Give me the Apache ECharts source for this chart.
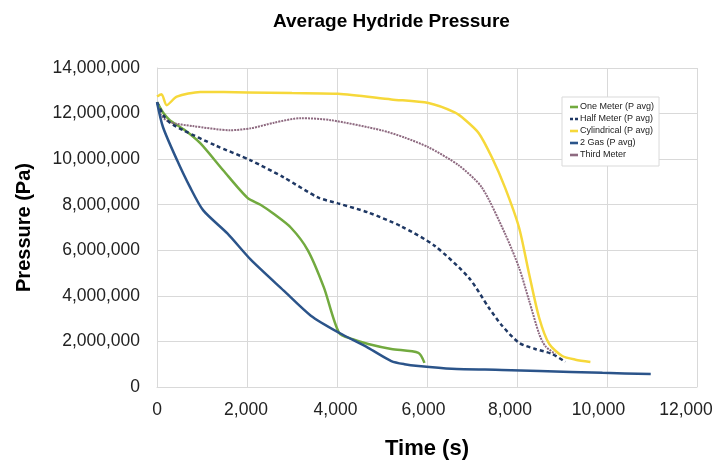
<!DOCTYPE html>
<html>
<head>
<meta charset="utf-8">
<script src="https://cdn.jsdelivr.net/npm/echarts@6/dist/echarts.min.js"></script>
<style>
html,body{margin:0;padding:0;background:#fff;}
#chart{width:724px;height:462px;}
</style>
</head>
<body>
<div id="chart"></div>
<script>
var seriesNames = ['One Meter (P avg)', 'Half Meter (P avg)', 'Cylindrical (P avg)', '2 Gas (P avg)', 'Third Meter'];

var oneMeterT = [0, 150, 290, 600, 961, 1475, 2011, 2300, 2592, 2972, 3352, 3710, 4045, 4350, 4693, 5207, 5810, 5944];
var oneMeterP = [12500000, 12000000, 11700000, 11300000, 10700000, 9500000, 8300000, 8000000, 7600000, 7000000, 6000000, 4360000, 2380000, 2100000, 1890000, 1670000, 1500000, 1060000];

var halfMeterT = [0, 150, 290, 581, 1300, 2078, 2816, 3576, 4022, 4693, 5430, 6168, 6928, 7374, 7665, 8045, 8403, 8782, 9073];
var halfMeterP = [12500000, 11900000, 11600000, 11270000, 10600000, 9950000, 9200000, 8320000, 8060000, 7660000, 7050000, 6200000, 4800000, 3480000, 2700000, 1940000, 1670000, 1450000, 1100000];

var cylT = [0, 100, 216, 440, 961, 2000, 3000, 4022, 5207, 6033, 6615, 6850, 7151, 7441, 7732, 8045, 8268, 8492, 8715, 9006, 9300, 9631];
var cylP = [12750000, 12850000, 12370000, 12740000, 12950000, 12930000, 12900000, 12870000, 12620000, 12460000, 12050000, 11720000, 11140000, 10080000, 8760000, 7000000, 4970000, 3040000, 1890000, 1360000, 1200000, 1100000];

var gasT = [0, 134, 447, 737, 1028, 1564, 2078, 2816, 3419, 4045, 4693, 5207, 5500, 5810, 6547, 7665, 8500, 9899, 10972];
var gasP = [12500000, 11400000, 9950000, 8760000, 7750000, 6740000, 5600000, 4230000, 3130000, 2380000, 1720000, 1140000, 1000000, 920000, 800000, 750000, 700000, 620000, 570000];

var thirdT = [0, 100, 290, 800, 1631, 2078, 2600, 3196, 3866, 4983, 5500, 6033, 6704, 7218, 7732, 8045, 8268, 8492, 8626, 8850];
var thirdP = [12500000, 11900000, 11620000, 11450000, 11270000, 11350000, 11600000, 11800000, 11710000, 11270000, 10950000, 10520000, 9730000, 8760000, 6740000, 5240000, 3800000, 2330000, 1800000, 1450000];

var xTicks = [0, 2000, 4000, 6000, 8000, 10000, 12000];
var yTicks = [0, 2000000, 4000000, 6000000, 8000000, 10000000, 12000000, 14000000];

function pairs(t, p) { return t.map(function (v, i) { return [v, p[i]]; }); }
function fmt(v) { return v.toLocaleString('en-US'); }

var colors = ['#72AA3F', '#1F3864', '#F6D83A', '#2B548A', '#8E6A80'];
var styles = [
  {width: 2.5, type: 'solid'},
  {width: 2.5, type: [4, 3]},
  {width: 2.5, type: 'solid'},
  {width: 2.5, type: 'solid'},
  {width: 2, type: [2, 1]}
];
var datas = [pairs(oneMeterT, oneMeterP), pairs(halfMeterT, halfMeterP), pairs(cylT, cylP), pairs(gasT, gasP), pairs(thirdT, thirdP)];
var solidIcon = 'path://M0,0h8v2.6h-8z';
var dashIcon = 'path://M0,0h3v2.6h-3z M5,0h3v2.6h-3z';

var font = "'Liberation Sans', Arial, sans-serif";
// small leftward label nudges to match the reference's tick-label placement
var xLabelShift = [0, 2, 3, 7, 14, 17, 22];
var xRich = {};
xLabelShift.forEach(function (s, i) {
  xRich['l' + i] = {fontFamily: font, fontSize: 17.5, color: '#222', padding: [0, s, 0, 0]};
});

var chart = echarts.init(document.getElementById('chart'));
chart.setOption({
  backgroundColor: '#fff',
  animation: false,
  title: {
    text: 'Average Hydride Pressure',
    left: 268, top: 7,
    textStyle: {fontFamily: font, fontSize: 19, fontWeight: 'bold', color: '#000'}
  },
  legend: {
    orient: 'vertical',
    left: 562, top: 97,
    padding: [4, 5, 5, 8],
    itemGap: 0,
    itemWidth: 8, itemHeight: 3,
    backgroundColor: '#fff',
    borderColor: '#d9d9d9', borderWidth: 1,
    data: seriesNames.map(function (n, i) { return {name: n, icon: i === 1 ? dashIcon : solidIcon}; }),
    textStyle: {fontFamily: font, fontSize: 9, lineHeight: 12, color: '#222', padding: [0, 0, 0, -3]}
  },
  grid: {left: 157, right: 27, top: 68, bottom: 75, containLabel: false, outerBoundsMode: 'none'},
  xAxis: {
    type: 'value', min: 0, max: 12000, interval: 2000,
    name: 'Time (s)', nameLocation: 'middle', nameGap: 51,
    nameTextStyle: {fontFamily: font, fontSize: 22, fontWeight: 'bold', color: '#000'},
    axisLine: {show: true, lineStyle: {color: '#d9d9d9'}},
    axisTick: {show: false},
    axisLabel: {
      fontFamily: font, fontSize: 17.5, color: '#222', margin: 14,
      rich: xRich,
      formatter: function (v) { var i = xTicks.indexOf(v); return i >= 0 ? '{l' + i + '|' + fmt(v) + '}' : ''; }
    },
    splitLine: {show: true, lineStyle: {color: '#d9d9d9', width: 1}}
  },
  yAxis: {
    type: 'value', min: 0, max: 14000000, interval: 2000000,
    name: 'Pressure (Pa)', nameLocation: 'middle', nameGap: 123, nameRotate: 90,
    nameTextStyle: {fontFamily: font, fontSize: 20, fontWeight: 'bold', color: '#000'},
    axisLine: {show: true, lineStyle: {color: '#d9d9d9'}},
    axisTick: {show: false},
    axisLabel: {fontFamily: font, fontSize: 17.5, color: '#222', margin: 17, formatter: function (v) { return yTicks.indexOf(v) >= 0 ? fmt(v) : ''; }},
    splitLine: {show: true, lineStyle: {color: '#d9d9d9', width: 1}}
  },
  series: seriesNames.map(function (n, i) {
    return {
      name: n, type: 'line', data: datas[i],
      symbol: 'none', smooth: 0.25,
      color: colors[i],
      lineStyle: {color: colors[i], width: styles[i].width, type: styles[i].type},
      z: [3, 4, 2, 5, 3][i]
    };
  })
});
</script>
</body>
</html>
